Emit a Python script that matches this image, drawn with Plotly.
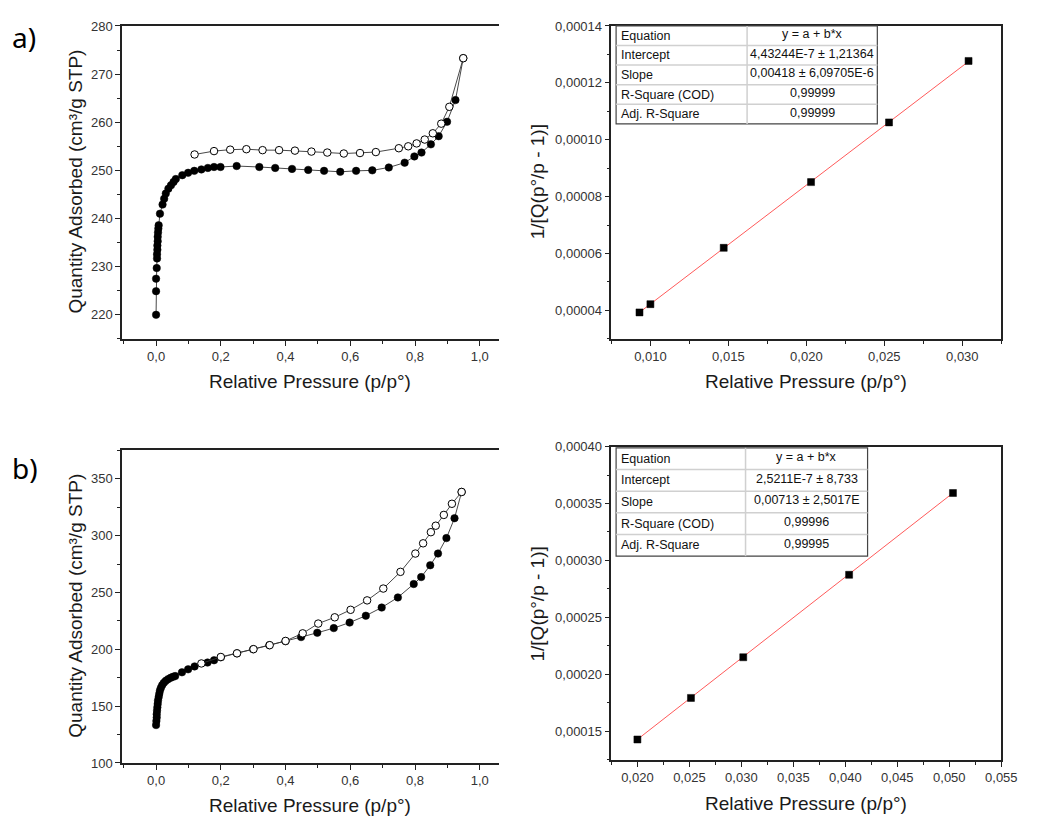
import plotly.graph_objects as go

W, H = 1037, 825

# ---------------- data ----------------
# (a) isotherm
a_ads_p = [0.000, 0.000, 0.000, 0.002, 0.003, 0.003, 0.004, 0.004, 0.005, 0.005, 0.006, 0.007, 0.008,
           0.012, 0.020, 0.025, 0.030, 0.038, 0.046, 0.054, 0.061, 0.081, 0.099, 0.118, 0.140, 0.160,
           0.179, 0.199, 0.249, 0.319, 0.368, 0.420, 0.470, 0.519, 0.569, 0.618, 0.668, 0.719, 0.768,
           0.798, 0.820, 0.849, 0.873, 0.899, 0.925, 0.949]
a_ads_q = [220.0, 224.9, 227.5, 229.7, 231.7, 232.6, 233.5, 234.4, 235.3, 236.2, 237.1, 237.9, 238.6,
           241.0, 242.9, 244.1, 245.2, 246.2, 246.9, 247.6, 248.2, 249.0, 249.5, 249.9, 250.2, 250.5,
           250.7, 250.7, 250.9, 250.7, 250.5, 250.3, 250.1, 249.9, 249.7, 249.9, 250.0, 250.6, 251.6,
           252.9, 253.7, 255.4, 257.1, 260.1, 264.6, 273.3]
a_des_p = [0.949, 0.906, 0.881, 0.855, 0.830, 0.805, 0.779, 0.750, 0.679, 0.630, 0.580, 0.529, 0.480,
           0.429, 0.380, 0.329, 0.279, 0.229, 0.179, 0.119]
a_des_q = [273.3, 263.2, 259.7, 257.7, 256.4, 255.6, 255.0, 254.6, 253.8, 253.6, 253.5, 253.7, 253.9,
           254.1, 254.2, 254.2, 254.4, 254.3, 254.0, 253.3]

# (a) BET plot
a_bet_p = [0.0093, 0.0100, 0.0147, 0.0203, 0.0253, 0.0304]
a_bet_y = [0.0000393, 0.0000422, 0.0000620, 0.0000851, 0.0001061, 0.0001277]
a_intercept = 4.43244e-7
a_slope = 0.00418
a_table_labels = ["Equation", "Intercept", "Slope", "R-Square (COD)", "Adj. R-Square"]
a_table_values = ["y = a + b*x", "4,43244E-7 ± 1,21364", "0,00418 ± 6,09705E-6", "0,99999", "0,99999"]

# (b) isotherm
b_ads_p = [0.000, 0.001, 0.002, 0.002, 0.003, 0.004, 0.005, 0.006, 0.008, 0.010, 0.012, 0.015, 0.019,
           0.024, 0.030, 0.037, 0.045, 0.052, 0.059, 0.080, 0.099, 0.119, 0.159, 0.179, 0.200, 0.250,
           0.300, 0.350, 0.400, 0.448, 0.498, 0.549, 0.598, 0.648, 0.697, 0.747, 0.796, 0.819, 0.847,
           0.871, 0.897, 0.922, 0.944]
b_ads_q = [133.4, 137.0, 140.0, 143.0, 146.0, 149.0, 152.0, 155.0, 158.0, 161.0, 163.8, 166.3, 168.6,
           170.6, 172.3, 173.8, 175.0, 175.8, 176.5, 179.8, 182.4, 185.0, 188.4, 190.4, 193.0, 196.5,
           200.0, 203.6, 207.2, 210.8, 214.6, 218.7, 223.6, 229.6, 236.8, 245.7, 257.5, 263.6, 274.0,
           284.3, 297.9, 315.4, 338.5]
b_des_p = [0.944, 0.914, 0.889, 0.864, 0.849, 0.825, 0.801, 0.755, 0.702, 0.652, 0.601, 0.552, 0.501,
           0.453, 0.400, 0.351, 0.301, 0.250, 0.200, 0.140]
b_des_q = [338.5, 328.1, 318.3, 308.8, 303.1, 293.3, 284.3, 268.2, 253.5, 243.1, 234.8, 228.2, 222.7,
           214.1, 207.4, 203.7, 200.2, 196.5, 193.3, 187.6]

# (b) BET plot
b_bet_p = [0.0200, 0.02515, 0.03018, 0.04036, 0.05035]
b_bet_y = [0.0001428, 0.0001793, 0.0002150, 0.0002874, 0.0003592]
b_intercept = 2.5211e-7
b_slope = 0.00713
b_table_labels = ["Equation", "Intercept", "Slope", "R-Square (COD)", "Adj. R-Square"]
b_table_values = ["y = a + b*x", "2,5211E-7 ± 8,733", "0,00713 ± 2,5017E", "0,99996", "0,99995"]

panel_labels = ["a)", "b)"]
x_title = "Relative Pressure (p/p°)"
y_title_iso = "Quantity Adsorbed (cm³/g STP)"
y_title_bet = "1/[Q(p°/p - 1)]"

# ---------------- style ----------------
FONT = "Arial, Liberation Sans, sans-serif"
AX = "#222222"

def px(x):
    return x / W

def py(y):
    return 1 - y / H

fig = go.Figure()

def iso_traces(ads_p, ads_q, des_p, des_q, xa, ya):
    fig.add_trace(go.Scatter(x=ads_p, y=ads_q, mode="lines+markers", xaxis=xa, yaxis=ya,
                             line=dict(color="#333333", width=0.9),
                             marker=dict(symbol="circle", size=7.5, color="black",
                                         line=dict(color="black", width=0.5)),
                             showlegend=False))
    fig.add_trace(go.Scatter(x=des_p, y=des_q, mode="lines+markers", xaxis=xa, yaxis=ya,
                             line=dict(color="#333333", width=0.9),
                             marker=dict(symbol="circle", size=7.5, color="white",
                                         line=dict(color="black", width=1)),
                             showlegend=False))

def bet_traces(p, y, a, b, xa, ya):
    xs = [min(p), max(p)]
    fig.add_trace(go.Scatter(x=xs, y=[a + b * v for v in xs], mode="lines", xaxis=xa, yaxis=ya,
                             line=dict(color="#ff5a5a", width=1), showlegend=False))
    fig.add_trace(go.Scatter(x=p, y=y, mode="markers", xaxis=xa, yaxis=ya,
                             marker=dict(symbol="square", size=7, color="black",
                                         line=dict(color="black", width=0.5)),
                             showlegend=False))

iso_traces(a_ads_p, a_ads_q, a_des_p, a_des_q, "x", "y")
bet_traces(a_bet_p, a_bet_y, a_intercept, a_slope, "x2", "y2")
iso_traces(b_ads_p, b_ads_q, b_des_p, b_des_q, "x3", "y3")
bet_traces(b_bet_p, b_bet_y, b_intercept, b_slope, "x4", "y4")

def axis(domain, rng, dtick, minor, fmt, anchor, mirror):
    return dict(domain=domain, range=rng, dtick=dtick, tick0=0, tickformat=fmt, anchor=anchor,
                showgrid=False, zeroline=False, showline=True, linecolor=AX, linewidth=1.5,
                mirror=mirror, ticks="outside", ticklen=5, tickwidth=1.2, tickcolor=AX,
                minor=dict(dtick=minor, ticks="outside", ticklen=3, tickwidth=1, tickcolor=AX, showgrid=False),
                tickfont=dict(family=FONT, size=13, color="#333333"))

xl = [px(124), px(507)]
xr = [px(621), px(1017)]
y_top = [py(338), py(19.3)]
y_bl = [py(770), py(451.7)]
y_br = [py(766.7), py(447.7)]

fig.update_layout(
    width=W, height=H, margin=dict(l=0, r=0, t=0, b=0),
    paper_bgcolor="white", plot_bgcolor="white", separators=", ",
    font=dict(family=FONT, color="#222222"),
    xaxis=axis(xl, [-0.105, 1.06], 0.2, 0.1, ".1f", "y", True),
    yaxis=axis(y_top, [215, 280], 10, 5, "d", "x", False),
    xaxis2=axis(xr, [0.0075, 0.0325], 0.005, 0.0025, ".3f", "y2", True),
    yaxis2=axis(y_top, [0.00003, 0.00014], 0.00002, 0.00001, ".5f", "x2", True),
    xaxis3=axis(xl, [-0.105, 1.06], 0.2, 0.1, ".1f", "y3", True),
    yaxis3=axis(y_bl, [100, 375], 50, 25, "d", "x3", False),
    xaxis4=axis(xr, [0.0175, 0.055], 0.005, 0.0025, ".3f", "y4", True),
    yaxis4=axis(y_br, [0.000125, 0.0004], 0.00005, 0.000025, ".5f", "x4", True),
)

ann = []
def text(x, y, s, size, angle=0, **kw):
    ann.append(dict(x=px(x), y=py(y), xref="paper", yref="paper", text=s, showarrow=False,
                    textangle=angle, font=dict(family=FONT, size=size, color="#1a1a1a"),
                    xanchor="center", yanchor="middle", **kw))

# axis titles
text(77, 178, y_title_iso, 19, -90)
text(315, 381, x_title, 19)
text(546, 178, y_title_bet, 19, -90)
text(819, 381, x_title, 19)
text(77, 610, y_title_iso, 19, -90)
text(315, 813, x_title, 19)
text(546, 608, y_title_bet, 19, -90)
text(819, 811, x_title, 19)
# panel labels
ann.append(dict(x=px(10), y=py(31), xref="paper", yref="paper", text=panel_labels[0], showarrow=False,
                font=dict(family="Noto Sans, Open Sans, sans-serif", size=28, color="black"),
                xanchor="left", yanchor="middle"))
ann.append(dict(x=px(10), y=py(470), xref="paper", yref="paper", text=panel_labels[1], showarrow=False,
                font=dict(family="Noto Sans, Open Sans, sans-serif", size=28, color="black"),
                xanchor="left", yanchor="middle"))

shapes = []
def table(xa, ya, x0, x1, xs, y0, y1, labels, values):
    xr_ = f"{xa} domain"
    yr_ = f"{ya} domain"
    n = len(labels)
    rh = (y1 - y0) / n
    shapes.append(dict(type="rect", xref=xr_, yref=yr_, x0=x0, x1=x1, y0=y0, y1=y1,
                       fillcolor="white", line=dict(color="#444444", width=1.2), layer="above"))
    for i in range(1, n):
        yy = y1 - i * rh
        shapes.append(dict(type="line", xref=xr_, yref=yr_, x0=x0, x1=x1, y0=yy, y1=yy,
                           line=dict(color="#d0d0d0", width=1.5), layer="above"))
    shapes.append(dict(type="line", xref=xr_, yref=yr_, x0=xs, x1=xs, y0=y0, y1=y1,
                       line=dict(color="#d0d0d0", width=1.5), layer="above"))
    for i, (lab, val) in enumerate(zip(labels, values)):
        yc = y1 - (i + 0.5) * rh
        ann.append(dict(x=x0 + 0.008, y=yc, xref=xr_, yref=yr_, text=lab, showarrow=False,
                        xanchor="left", yanchor="middle",
                        font=dict(family=FONT, size=12.5, color="#111111")))
        ann.append(dict(x=(xs + x1) / 2, y=yc + rh * 0.08, xref=xr_, yref=yr_, text=val, showarrow=False,
                        xanchor="center", yanchor="middle",
                        font=dict(family=FONT, size=12.5, color="#111111")))

table("x2", "y2", 0.012, 0.682, 0.348, 0.687, 1.0, a_table_labels, a_table_values)
table("x4", "y4", 0.012, 0.657, 0.344, 0.650, 0.996, b_table_labels, b_table_values)

fig.update_layout(annotations=ann, shapes=shapes)
fig.write_html("out.html")
